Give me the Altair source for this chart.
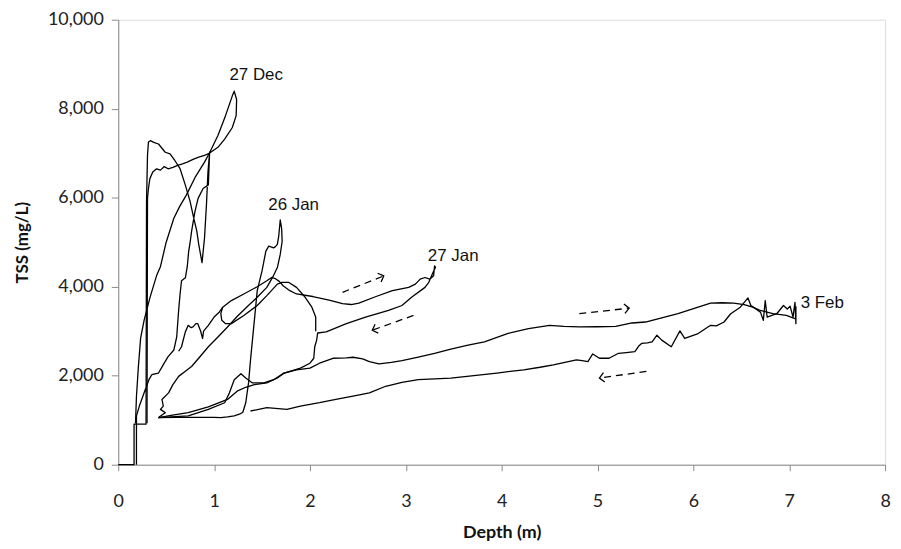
import math
import pandas as pd
import altair as alt

# ---------------- data ----------------
# 27 Dec: rising limb, thin loop and descent
DEC_A_DEPTH = [0.0, 0.165, 0.165, 0.29, 0.295, 0.305, 0.315, 0.336, 0.37, 0.42, 0.49, 0.54, 0.59,
               0.645, 0.70, 0.75, 0.78, 0.82, 0.84, 0.874, 0.90, 0.92, 0.936, 0.953, 0.94, 0.885,
               0.833, 0.80, 0.765, 0.75, 0.735, 0.72, 0.70, 0.66, 0.645, 0.63, 0.61, 0.58, 0.52,
               0.47, 0.42, 0.35, 0.32, 0.27, 0.22, 0.19, 0.19]
DEC_A_TSS = [0, 0, 911, 911, 5900, 6950, 7250, 7282, 7244, 7207, 7022, 6985, 6837,
             6652, 6282, 5911, 5615, 5244, 4948, 4540, 5096, 5837, 6578, 7022, 6289, 6207,
             5985, 5689, 5244, 5000, 4800, 4450, 4200, 4133, 3837, 3466, 2874, 2578, 2429,
             2250, 2060, 2022, 1911, 1615, 1318, 1096, 0]

# 27 Dec: upper branch, narrow loop to the peak and long descent
DEC_B_DEPTH = [0.30, 0.305, 0.315, 0.33, 0.36, 0.40, 0.44, 0.48, 0.52, 0.57, 0.62, 0.67, 0.72,
               0.78, 0.84, 0.90, 0.95, 1.04, 1.11, 1.19, 1.23, 1.235, 1.21, 1.19, 1.12, 1.04,
               0.95, 0.90, 0.80, 0.71, 0.64, 0.58, 0.50, 0.44, 0.40, 0.33, 0.27, 0.233, 0.21,
               0.19, 0.18]
DEC_B_TSS = [930, 5985, 6207, 6429, 6578, 6650, 6620, 6700, 6650, 6680, 6726, 6760, 6800,
             6860, 6911, 6950, 7000, 7133, 7318, 7578, 7844, 8207, 8393, 8289, 7850, 7400,
             7000, 6800, 6450, 6059, 5800, 5540, 5000, 4450, 4250, 3750, 3250, 2837, 2200,
             1540, 930]

# 26 Jan
JAN26_DEPTH = [0.42, 0.60, 0.80, 1.00, 1.07, 1.14, 1.21, 1.27, 1.30, 1.33, 1.36, 1.38, 1.42,
               1.45, 1.50, 1.54, 1.57, 1.60, 1.62, 1.64, 1.66, 1.675, 1.69, 1.705, 1.71, 1.69,
               1.66, 1.62, 1.55, 1.45, 1.35, 1.24, 1.14, 1.04, 0.94, 0.85, 0.765, 0.70, 0.63,
               0.57, 0.525, 0.456, 0.47, 0.44, 0.49, 0.42]
JAN26_TSS = [1060, 1062, 1066, 1062, 1059, 1075, 1096, 1140, 1178, 1393, 1850, 2355, 3244,
             3911, 4355, 4800, 4911, 4890, 4874, 4900, 4950, 5150, 5500, 5300, 5022, 4726,
             4430, 4250, 3985, 3763, 3560, 3330, 3096, 2870, 2651, 2420, 2207, 2100, 1985,
             1800, 1615, 1467, 1318, 1244, 1170, 1060]

# 27 Jan: main loop (upper branch out, lower branch back)
JAN27_DEPTH = [0.63, 0.66, 0.70, 0.73, 0.76, 0.78, 0.81, 0.83, 0.86, 0.88, 0.89, 0.94, 1.00,
               1.05, 1.09, 1.18, 1.31, 1.45, 1.55, 1.60, 1.64, 1.68, 1.72, 1.79, 1.86, 2.03,
               2.20, 2.34, 2.43, 2.51, 2.69, 2.86, 3.03, 3.10, 3.15, 3.20, 3.25, 3.29, 3.30,
               3.31, 3.28, 3.24, 3.20, 3.06, 2.96, 2.82, 2.58, 2.38, 2.17, 2.08, 2.07, 2.05,
               2.04, 2.00, 1.90, 1.73, 1.62, 1.52, 1.40, 1.33, 1.28, 1.21, 1.16, 1.11, 0.94,
               0.73, 0.42]
JAN27_TSS = [2550, 2651, 2985, 3133, 3080, 3096, 3170, 3170, 3000, 2837, 3000, 3133, 3318,
             3420, 3540, 3689, 3837, 4000, 4133, 4207, 4180, 4120, 4022, 3911, 3837, 3780,
             3700, 3620, 3600, 3630, 3780, 3911, 3985, 4059, 4170, 4207, 4170, 4244, 4466,
             4440, 4300, 4100, 3985, 3763, 3578, 3466, 3318, 3170, 2985, 2960, 2800, 2651,
             2392, 2281, 2170, 2059, 1911, 1837, 1837, 1948, 2044, 1911, 1615, 1393, 1244,
             1096, 1060]

# 27 Jan: inner loop near the cluster
JAN27_LOOP_DEPTH = [2.06, 2.06, 2.02, 1.95, 1.86, 1.78, 1.71, 1.66, 1.55, 1.45, 1.31, 1.18,
                    1.12, 1.08, 1.07, 1.09]
JAN27_LOOP_TSS = [3000, 3318, 3540, 3763, 3985, 4096, 4096, 4059, 3800, 3578, 3355, 3170,
                  3170, 3244, 3400, 3540]

# 3 Feb: rising (upper) branch
FEB3_UP_DEPTH = [0.42, 0.55, 0.73, 0.94, 1.14, 1.24, 1.33, 1.42, 1.55, 1.66, 1.73, 1.86, 2.00,
                 2.10, 2.24, 2.38, 2.45, 2.55, 2.62, 2.72, 2.85, 2.96, 3.13, 3.30, 3.47, 3.65,
                 3.82, 4.06, 4.28, 4.50, 4.65, 4.81, 5.00, 5.19, 5.36, 5.50, 5.70, 5.84, 6.05,
                 6.18, 6.30, 6.42, 6.53, 6.62, 6.70, 6.83, 6.97, 7.06]
FEB3_UP_TSS = [1060, 1110, 1170, 1300, 1467, 1652, 1740, 1800, 1837, 1948, 2059, 2133, 2170,
               2281, 2392, 2400, 2415, 2380, 2318, 2267, 2300, 2340, 2420, 2504, 2600, 2689,
               2762, 2948, 3060, 3133, 3110, 3096, 3100, 3111, 3185, 3207, 3318, 3393, 3540,
               3629, 3640, 3629, 3600, 3540, 3466, 3393, 3355, 3281]

# 3 Feb: falling (lower) branch
FEB3_DOWN_DEPTH = [1.38, 1.55, 1.76, 1.90, 2.10, 2.27, 2.45, 2.62, 2.79, 2.96, 3.13, 3.30,
                   3.47, 3.71, 3.95, 4.23, 4.40, 4.54, 4.66, 4.78, 4.84, 4.90, 4.95, 5.02,
                   5.12, 5.22, 5.30, 5.39, 5.43, 5.46, 5.52, 5.57, 5.62, 5.67, 5.77, 5.86,
                   5.91, 6.05, 6.18, 6.24, 6.32, 6.39, 6.49, 6.57, 6.60, 6.70, 6.73, 6.75,
                   6.77, 6.87, 6.94, 6.98, 7.01, 7.04, 7.06, 7.07, 7.07]
FEB3_DOWN_TSS = [1207, 1281, 1244, 1318, 1393, 1467, 1540, 1615, 1763, 1850, 1911, 1930,
                 1948, 2000, 2060, 2133, 2190, 2244, 2300, 2355, 2340, 2318, 2489, 2392,
                 2392, 2504, 2520, 2540, 2667, 2726, 2740, 2763, 2911, 2800, 2651, 3007,
                 2837, 2948, 3133, 3120, 3207, 3393, 3540, 3748, 3578, 3429, 3244, 3689,
                 3318, 3393, 3578, 3500, 3560, 3318, 3650, 3170, 3560]

STROKES = [
    (DEC_A_DEPTH, DEC_A_TSS),
    (DEC_B_DEPTH, DEC_B_TSS),
    (JAN26_DEPTH, JAN26_TSS),
    (JAN27_DEPTH, JAN27_TSS),
    (JAN27_LOOP_DEPTH, JAN27_LOOP_TSS),
    (FEB3_UP_DEPTH, FEB3_UP_TSS),
    (FEB3_DOWN_DEPTH, FEB3_DOWN_TSS),
]

LABELS = ["27 Dec", "26 Jan", "27 Jan", "3 Feb"]
LABEL_DEPTH = [1.16, 1.565, 3.23, 7.12]
LABEL_TSS = [8755, 5844, 4689, 3644]

ARROW_X1 = [2.34, 3.08, 4.81, 5.51]
ARROW_Y1 = [3874, 3355, 3393, 2096]
ARROW_X2 = [2.77, 2.65, 5.33, 5.02]
ARROW_Y2 = [4244, 3022, 3518, 1948]

X_TICKS = [0, 1, 2, 3, 4, 5, 6, 7, 8]
Y_TICKS = [0, 2000, 4000, 6000, 8000, 10000]

# ---------------- build ----------------
W, H = 772, 448
XMAX, YMAX = 8, 10000

rows = []
for sid, (ds, ts) in enumerate(STROKES):
    for i, (d, t) in enumerate(zip(ds, ts)):
        rows.append({"s": sid, "i": i, "d": d, "t": t})
lines_df = pd.DataFrame(rows)

labels_df = pd.DataFrame({"label": LABELS, "d": LABEL_DEPTH, "t": LABEL_TSS})

angles = []
for x1, y1, x2, y2 in zip(ARROW_X1, ARROW_Y1, ARROW_X2, ARROW_Y2):
    dx = (x2 - x1) * W / XMAX
    dy = -(y2 - y1) * H / YMAX
    angles.append(math.degrees(math.atan2(dy, dx)) % 360)
arrows_df = pd.DataFrame({"x1": ARROW_X1, "y1": ARROW_Y1, "x2": ARROW_X2, "y2": ARROW_Y2,
                          "ang": angles})

xs = alt.Scale(domain=[0, XMAX], nice=False, zero=False)
ys = alt.Scale(domain=[0, YMAX], nice=False, zero=False)

AX_FONT = "Lato"
x_axis = alt.Axis(values=X_TICKS, grid=False, labelFont=AX_FONT, labelFontSize=18,
                  labelExpr="format(datum.value, 'd')",
                  labelColor="#222222", domainColor="#8a8a8a", tickColor="#8a8a8a",
                  tickSize=6, labelPadding=22, titleFont=AX_FONT, titleFontSize=18,
                  titleFontWeight="bold", titleColor="#111111", titlePadding=13,
                  labelFlush=False)
y_axis = alt.Axis(values=Y_TICKS, grid=False, labelFont=AX_FONT, labelFontSize=18,
                  labelExpr="format(datum.value, ',d')",
                  labelColor="#222222", domainColor="#8a8a8a", tickColor="#8a8a8a",
                  tickSize=7, labelPadding=8, titleFont=AX_FONT, titleFontSize=17,
                  titleFontWeight="bold", titleColor="#111111", titlePadding=16)

lines = alt.Chart(lines_df).mark_line(color="black", strokeWidth=1.3, strokeJoin="round").encode(
    x=alt.X("d:Q", scale=xs, axis=x_axis, title="Depth (m)"),
    y=alt.Y("t:Q", scale=ys, axis=y_axis, title="TSS (mg/L)"),
    detail="s:N",
    order="i:Q",
)

texts = alt.Chart(labels_df).mark_text(align="left", baseline="middle", font="Liberation Sans",
                                      fontSize=17, color="#111111").encode(
    x=alt.X("d:Q", scale=xs), y=alt.Y("t:Q", scale=ys), text="label:N")

shafts = alt.Chart(arrows_df).mark_rule(color="black", strokeWidth=1.3, strokeDash=[7, 5]).encode(
    x=alt.X("x1:Q", scale=xs), y=alt.Y("y1:Q", scale=ys),
    x2="x2:Q", y2="y2:Q")

heads = alt.Chart(arrows_df).mark_point(shape="M-1,-1L0,0L-1,1", size=90, filled=False,
                                        color="black", strokeWidth=1.3, opacity=1).encode(
    x=alt.X("x2:Q", scale=xs), y=alt.Y("y2:Q", scale=ys),
    angle=alt.Angle("ang:Q", scale=None))

chart = alt.layer(lines, shafts, heads, texts).properties(
    width=W, height=H,
    autosize=alt.AutoSizeParams(type="none"),
    padding={"left": 111, "top": 10, "right": 8, "bottom": 75},
).configure_view(stroke=None).configure(background="white")

chart.save("out.html", embed_options={"renderer": "svg", "actions": False})
